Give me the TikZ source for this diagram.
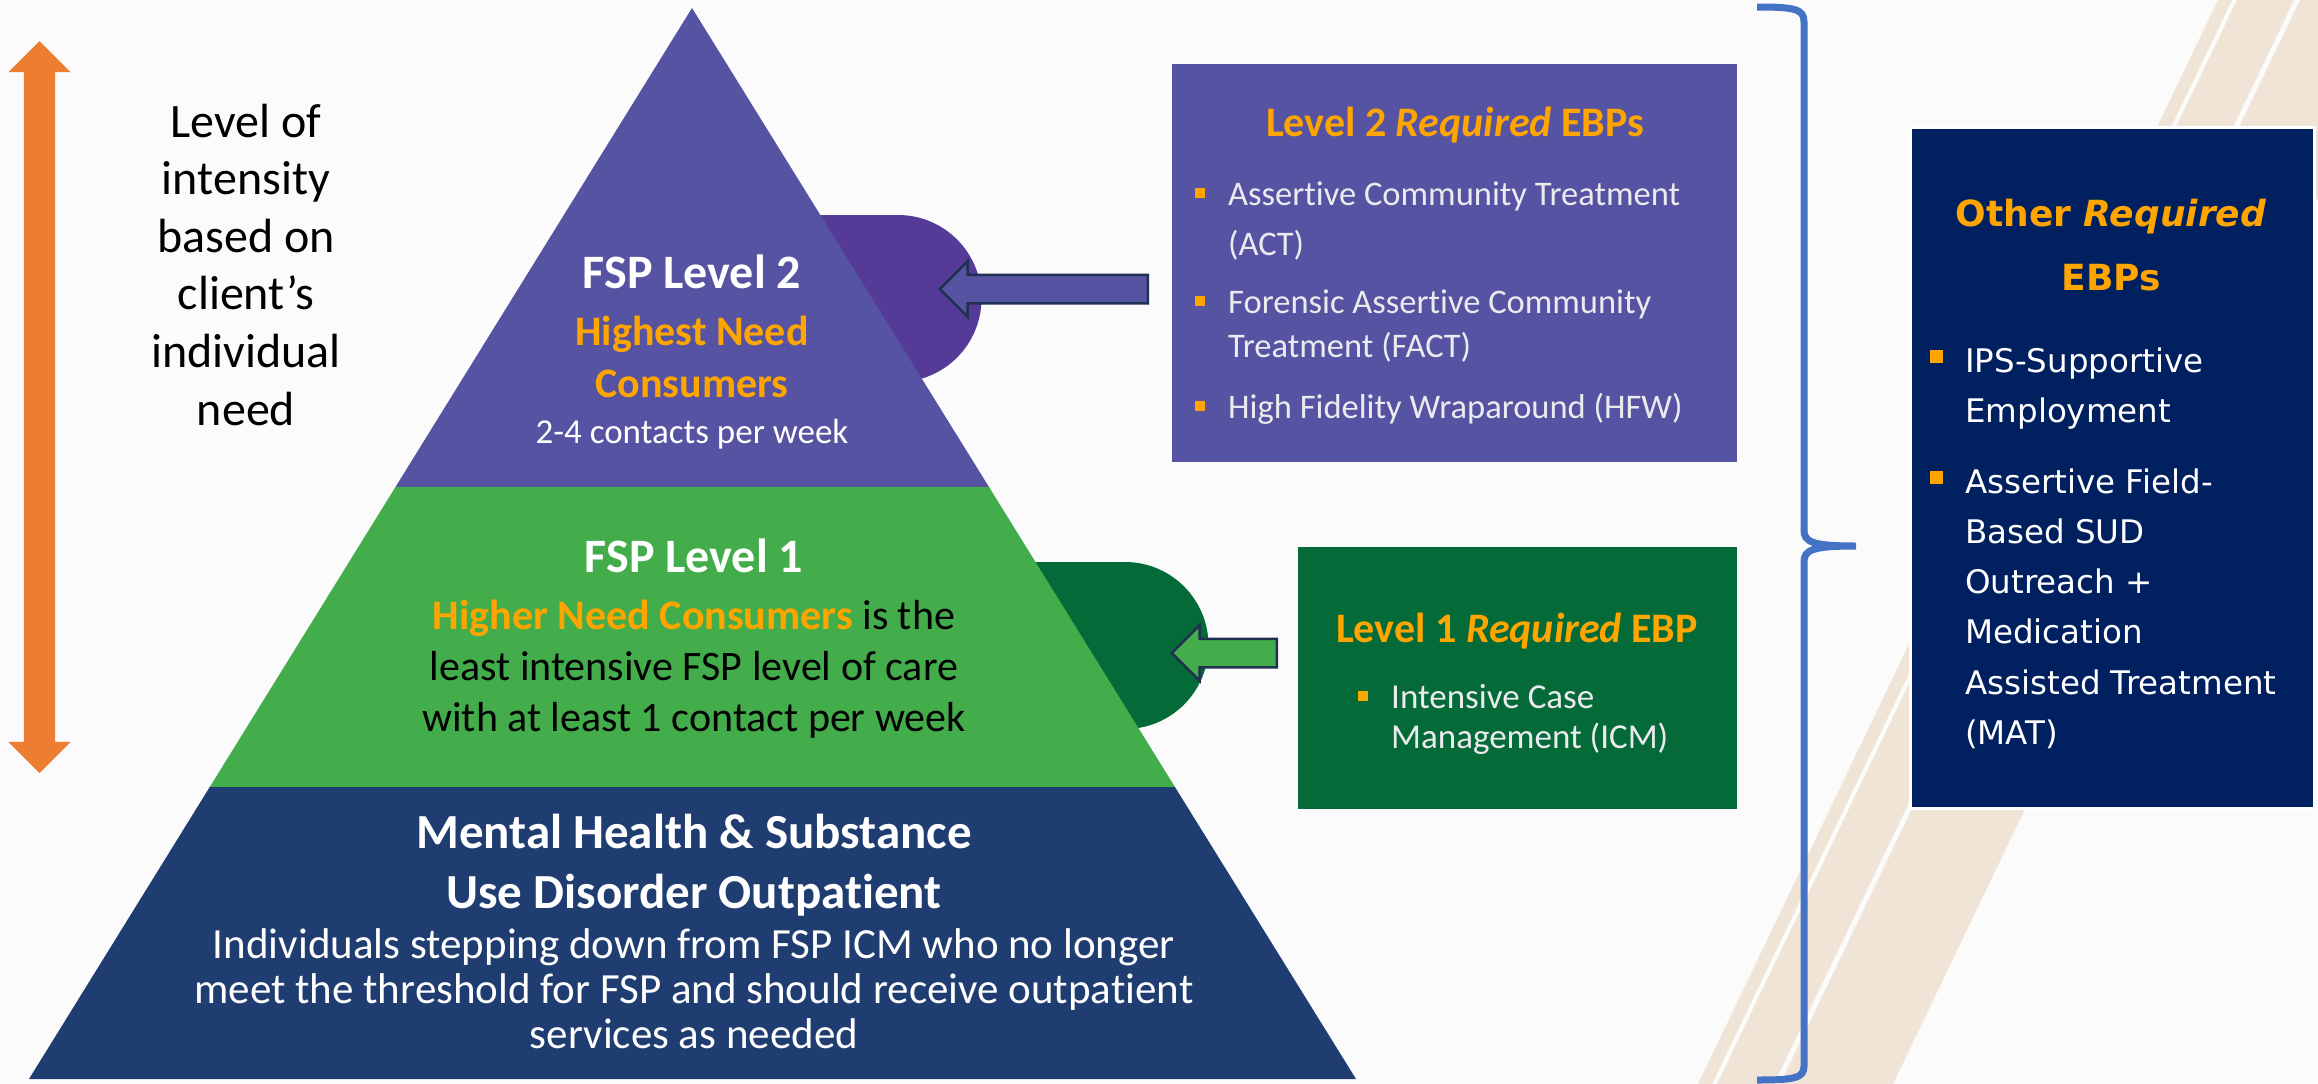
\documentclass[tikz,border=0pt]{standalone}
\usepackage{fontspec}
\setmainfont{Carlito}[Ligatures={NoCommon}]
\newfontfamily\verdana{DejaVu Sans}
\usepackage{tikz}
\usetikzlibrary{positioning, calc, shapes.arrows}
\definecolor{pagebg}{HTML}{FBFBFB}
\definecolor{stripe}{HTML}{EFE4D5}
\definecolor{lvltwo}{HTML}{5553A2}
\definecolor{lvltwolobe}{HTML}{553A98}
\definecolor{lvlone}{HTML}{43AC4B}
\definecolor{lvlonedark}{HTML}{046B38}
\definecolor{outpatient}{HTML}{1F3D71}
\definecolor{othernavy}{HTML}{002060}
\definecolor{ebporange}{HTML}{FFA500}
\definecolor{intensity}{HTML}{ED7D31}
\definecolor{bracketblue}{HTML}{4472C4}
\definecolor{arrowedge}{HTML}{1F3050}
\definecolor{itemgray}{HTML}{EBEBEF}
\tikzset{
  pyrtitle/.style={anchor=base, text=white, font=\bfseries\fontsize{48}{58}\selectfont},
  pyrtext/.style={anchor=base, align=center},
  ebpbox/.style={anchor=north west},
  ebptitle/.style={anchor=base, align=center, text=ebporange, font=\bfseries\fontsize{42}{50}\selectfont},
  ebpitem/.style={anchor=base west, align=left, text=itemgray},
  bulletsq/.style={fill=ebporange, minimum size=10pt},
  blockarrow/.style={single arrow, shape border rotate=180, draw=arrowedge, line width=2.5pt,
    inner sep=13pt, single arrow head extend=13.5pt, minimum width=53pt},
  bracebar/.style={draw=bracketblue, line width=7pt},
  band/.style={fill=stripe},
  every node/.style={inner sep=0}
}

\begin{document}
\begin{tikzpicture}[x=1pt, y=-1pt]
    \useasboundingbox (0,0) rectangle (2318,1084);
    \fill[pagebg] (0,0) rectangle (2318,1084);
    % diagonal stripes in the background
    \begin{scope}
      \clip (0,0) rectangle (2318,1084);
      \foreach \ua/\ub in {2218/2232, 2237/2294, 2300/2413}
        \fill[band] (\ua,0) -- (\ub,0) -- (\ub-520,1084) -- (\ua-520,1084) -- cycle;
    \end{scope}
    % lobes behind the pyramid
    \fill[lvltwolobe] (780,215) -- (898,215) arc[start angle=-90, end angle=90, radius=83.5] -- (780,382) -- cycle;
    \fill[lvlonedark] (1000,562) -- (1125,562) arc[start angle=-90, end angle=90, radius=83.5] -- (1000,729) -- cycle;
    % pyramid
    \coordinate (apex) at (692,8);
    \coordinate (baseL) at (29,1079);
    \coordinate (baseR) at (1356,1079);
    \coordinate (topL) at ($(apex)!0.4473!(baseL)$);
    \coordinate (topR) at ($(apex)!0.4473!(baseR)$);
    \coordinate (lowL) at ($(apex)!0.7274!(baseL)$);
    \coordinate (lowR) at ($(apex)!0.7274!(baseR)$);
    \fill[lvltwo] (apex) -- (topL) -- (topR) -- cycle;
    \fill[lvlone] (topL) -- (topR) -- (lowR) -- (lowL) -- cycle;
    \fill[outpatient] (lowL) -- (lowR) -- (baseR) -- (baseL) -- cycle;
    \node[pyrtitle] (fsptwo) at (692,288) {FSP Level 2};
    \node[pyrtext, text=ebporange, font=\bfseries\fontsize{42}{52}\selectfont] (highest) at (692,397) {Highest Need\\Consumers};
    \node[pyrtext, text=white, font=\fontsize{35}{42}\selectfont] (contacts) at (692,443) {2-4 contacts per week};
    \node[pyrtitle] (fspone) at (694,572) {FSP Level 1};
    \node[pyrtext, font=\fontsize{42}{51}\selectfont] (higher) at (694,731) {\textcolor{ebporange}{\bfseries Higher Need Consumers} is the\\least intensive FSP level of care\\with at least 1 contact per week};
    \node[pyrtext, text=white, font=\bfseries\fontsize{49}{60}\selectfont] (mhsud) at (694,908) {Mental Health \& Substance\\Use Disorder Outpatient};
    \node[pyrtext, text=white, font=\fontsize{43}{45}\selectfont] (stepdown) at (694,1048) {Individuals stepping down from FSP ICM who no longer\\meet the threshold for FSP and should receive outpatient\\services as needed};
    % intensity arrow and label
    \node[double arrow, shape border rotate=90, fill=intensity, inner sep=15.5pt, double arrow head extend=15.5pt,
      minimum width=62pt, minimum height=732pt] (intensityarrow) at (39.5,407) {};
    \node[pyrtext, font=\fontsize{48}{57.6}\selectfont] (intensitylabel) at (246,425) {Level of\\intensity\\based on\\client’s\\individual\\need};
    % level 2 box
    \node[ebpbox, fill=lvltwo, minimum width=565pt, minimum height=398pt] (l2box) at (1172,64) {};
    \node[ebptitle] (l2title) at (1455,136) {Level 2 \textit{Required} EBPs};
    \node[ebpitem, font=\fontsize{34.5}{50}\selectfont] (act) at (1228,255) {Assertive Community Treatment\\(ACT)};
    \node[ebpitem, font=\fontsize{34.5}{44}\selectfont] (fact) at (1228,357) {Forensic Assertive Community\\Treatment (FACT)};
    \node[ebpitem, font=\fontsize{34.5}{44}\selectfont] (hfw) at (1228,418) {High Fidelity Wraparound (HFW)};
    \node[bulletsq] at ($(act.base west)+(-28,-62)$) {};
    \node[bulletsq] at ($(fact.base west)+(-28,-56)$) {};
    \node[bulletsq] at ($(hfw.base west)+(-28,-12)$) {};
    \node[blockarrow, fill=lvltwo, minimum height=208pt] (l2arrow) at (1051,289) {};
    % level 1 box
    \node[ebpbox, fill=lvlonedark, minimum width=439pt, minimum height=262pt] (l1box) at (1298,547) {};
    \node[ebptitle] (l1title) at (1517,642) {Level 1 \textit{Required} EBP};
    \node[ebpitem, font=\fontsize{35}{40}\selectfont] (icm) at (1391,748) {Intensive Case\\Management (ICM)};
    \node[bulletsq] at ($(icm.base west)+(-28,-52)$) {};
    \node[blockarrow, fill=lvlone, minimum height=105pt] (l1arrow) at (1231.5,653) {};
    % bracket
    \draw[bracebar] (1757,7) .. controls (1795,7) and (1804,9) .. (1804,22) -- (1804,530)
      .. controls (1804,542) and (1812,546) .. (1856,546)
      .. controls (1812,546) and (1804,550) .. (1804,562) -- (1804,1066)
      .. controls (1804,1078) and (1795,1080) .. (1757,1080);
    % other required box
    \node[ebpbox, fill=othernavy, draw=white, line width=3pt, minimum width=404pt, minimum height=681pt] (otherbox) at (1909,126) {};
    \node[anchor=base, align=center, text=ebporange, font=\verdana\bfseries\fontsize{36}{64}\selectfont] (othertitle) at (2111,290) {Other \textit{Required}\\EBPs};
    \node[ebpitem, text=white, font=\verdana\fontsize{32.5}{50}\selectfont] (ips) at (1965,422) {IPS-Supportive\\Employment};
    \node[ebpitem, text=white, font=\verdana\fontsize{32.5}{50.3}\selectfont] (sud) at (1965,744.5) {Assertive Field-\\Based SUD\\Outreach +\\Medication\\Assisted Treatment\\(MAT)};
    \node[bulletsq, minimum size=13pt] at ($(ips.base west)+(-29,-66)$) {};
    \node[bulletsq, minimum size=13pt] at ($(sud.base west)+(-29,-267.5)$) {};
\end{tikzpicture}
\end{document}
